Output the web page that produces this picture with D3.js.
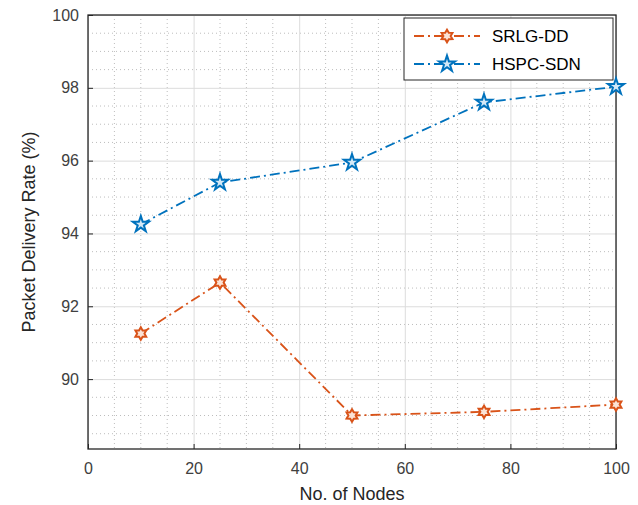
<html>
<head>
<script src="https://d3js.org/d3.v7.min.js"></script>
<style>
  body { margin: 0; background: #fff; }
  text { font-family: "Liberation Sans", Arial, sans-serif; }
</style>
</head>
<body>
<svg id="chart" width="638" height="505"></svg>
<script>
const nodes = [10, 25, 50, 75, 100]
const srlg = [91.25, 92.65, 89.0, 89.1, 89.3]
const hspc = [94.25, 95.4, 95.95, 97.6, 98.03]
const xTicks = [0, 20, 40, 60, 80, 100]
const yTicks = [90, 92, 94, 96, 98, 100]
const seriesNames = ['SRLG-DD', 'HSPC-SDN']

const svg = d3.select('#chart')
const margins = {top: 15, left: 88, right: 22, bottom: 56}
const width = 638, height = 505
const chartWidth = width - margins.left - margins.right
const chartHeight = height - margins.top - margins.bottom

const xScale = d3.scaleLinear().domain([0, 100]).range([0, chartWidth])
const yScale = d3.scaleLinear().domain([88.08, 100]).range([chartHeight, 0])

const chart = svg.append('g').attr('transform', `translate(${margins.left},${margins.top})`)

// minor grid (dotted)
const xMinor = d3.range(5, 100, 5).filter(v => v % 20 !== 0)
const yMinor = d3.range(88.5, 100, 0.5).filter(v => Math.abs(v % 2) > 0.01)
chart.append('g').selectAll('line').data(xMinor).join('line')
  .attr('x1', d => xScale(d)).attr('x2', d => xScale(d))
  .attr('y1', 0).attr('y2', chartHeight)
  .attr('stroke', '#bdbdbd').attr('stroke-width', 1).attr('stroke-dasharray', '1,3')
chart.append('g').selectAll('line').data(yMinor).join('line')
  .attr('y1', d => yScale(d)).attr('y2', d => yScale(d))
  .attr('x1', 0).attr('x2', chartWidth)
  .attr('stroke', '#bdbdbd').attr('stroke-width', 1).attr('stroke-dasharray', '1,3')

// major grid
chart.append('g').attr('class', 'grid')
  .call(d3.axisBottom(xScale).tickValues(xTicks).tickSize(chartHeight).tickFormat(''))
  .call(g => g.select('.domain').remove())
  .selectAll('line').attr('stroke', '#dcdcdc')
chart.append('g').attr('class', 'grid')
  .call(d3.axisLeft(yScale).tickValues(yTicks).tickSize(-chartWidth).tickFormat(''))
  .call(g => g.select('.domain').remove())
  .selectAll('line').attr('stroke', '#dcdcdc')

// axes
const xAxis = chart.append('g').attr('transform', `translate(0,${chartHeight})`)
  .call(d3.axisBottom(xScale).tickValues(xTicks).tickSize(-5).tickPadding(14))
xAxis.select('.domain').remove()
xAxis.selectAll('line').attr('stroke', '#262626')
xAxis.selectAll('text').attr('font-size', 16).attr('fill', '#404040')
const yAxis = chart.append('g')
  .call(d3.axisLeft(yScale).tickValues(yTicks).tickSize(-5).tickPadding(9))
yAxis.select('.domain').remove()
yAxis.selectAll('line').attr('stroke', '#262626')
yAxis.selectAll('text').attr('font-size', 16).attr('fill', '#404040')

chart.append('rect').attr('width', chartWidth).attr('height', chartHeight)
  .attr('fill', 'none').attr('stroke', '#262626').attr('stroke-width', 1.3)

// series
const colors = ['#D95319', '#0072BD']
const fills = ['#fbe3d6', '#d4e9f7']
const hexagram = d3.symbol().type({draw(ctx, size) {
  const r = Math.sqrt(size) / 1.6
  const pts = []
  for (let i = 0; i < 12; i++) {
    const a = -Math.PI / 2 + i * Math.PI / 6
    const rr = i % 2 === 0 ? r : r * 0.58
    pts.push([rr * Math.cos(a), rr * Math.sin(a)])
  }
  ctx.moveTo(pts[0][0], pts[0][1])
  pts.slice(1).forEach(p => ctx.lineTo(p[0], p[1]))
  ctx.closePath()
}}).size(100)
const pentagram = d3.symbol().type(d3.symbolStar).size(80)
const markers = [hexagram, pentagram]

const line = d3.line().x(d => xScale(d[0])).y(d => yScale(d[1]))
;[srlg, hspc].forEach((vals, i) => {
  const pts = nodes.map((n, j) => [n, vals[j]])
  chart.append('path').datum(pts).attr('d', line)
    .attr('fill', 'none').attr('stroke', colors[i]).attr('stroke-width', 1.8)
    .attr('stroke-dasharray', '10,4,2,4')
  chart.append('g').selectAll('path').data(pts).join('path')
    .attr('transform', d => `translate(${xScale(d[0])},${yScale(d[1])})`)
    .attr('d', markers[i]())
    .attr('fill', fills[i]).attr('stroke', colors[i]).attr('stroke-width', 2)
})

// legend
const legend = chart.append('g').attr('transform', `translate(${chartWidth - 212},3)`)
legend.append('rect').attr('width', 209).attr('height', 62)
  .attr('fill', '#fff').attr('stroke', '#262626').attr('stroke-width', 1)
seriesNames.forEach((name, i) => {
  const y = 18 + i * 28
  legend.append('line').attr('x1', 10).attr('x2', 76).attr('y1', y).attr('y2', y)
    .attr('stroke', colors[i]).attr('stroke-width', 1.8).attr('stroke-dasharray', '10,4,2,4')
  legend.append('path').attr('transform', `translate(43,${y})`).attr('d', markers[i]())
    .attr('fill', fills[i]).attr('stroke', colors[i]).attr('stroke-width', 2)
  legend.append('text').attr('x', 88).attr('y', y).attr('dy', '0.36em')
    .attr('font-size', 17).attr('fill', '#000').text(name)
})

// labels
svg.append('text').attr('x', margins.left + chartWidth / 2).attr('y', 500)
  .attr('text-anchor', 'middle').attr('font-size', 18).attr('fill', '#262626').text('No. of Nodes')
svg.append('text').attr('transform', `translate(35,${margins.top + chartHeight / 2}) rotate(-90)`)
  .attr('text-anchor', 'middle').attr('font-size', 18).attr('fill', '#262626').text('Packet Delivery Rate (%)')
</script>
</body>
</html>
